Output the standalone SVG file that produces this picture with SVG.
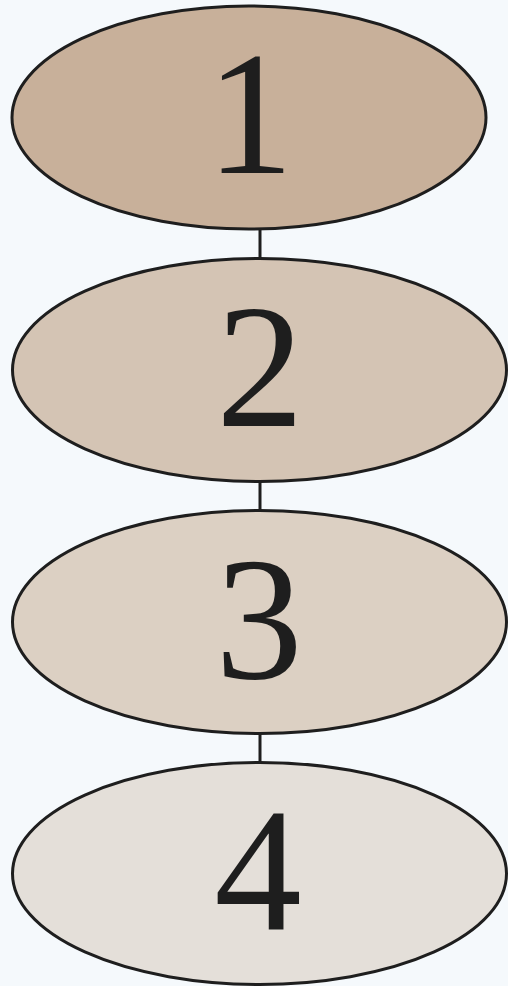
<svg xmlns="http://www.w3.org/2000/svg" width="508" height="986" viewBox="0 0 508 986">
<style>
.n{stroke:#1e1e1e;stroke-width:3}
.t{font-family:"Liberation Serif","DejaVu Serif",serif;font-size:175px;fill:#1e1e1e;text-anchor:middle}
.c{stroke:#1e1e1e;stroke-width:3;fill:none}
</style>
<rect width="508" height="986" fill="#f5f9fc"/>
<g id="connectors">
<line class="c" x1="260" y1="229" x2="260" y2="259"/>
<line class="c" x1="260" y1="482" x2="260" y2="511"/>
<line class="c" x1="260" y1="734" x2="260" y2="763"/>
</g>
<g id="node1">
<ellipse class="n" cx="249" cy="117.5" rx="237" ry="111.5" fill="#c8b09a"/>
<text class="t" x="250" y="173">1</text>
</g>
<g id="node2">
<ellipse class="n" cx="259.5" cy="370" rx="247" ry="111.5" fill="#d4c4b4"/>
<text class="t" x="260" y="425.5">2</text>
</g>
<g id="node3">
<ellipse class="n" cx="259.5" cy="622" rx="247" ry="111.5" fill="#dcd0c3"/>
<text class="t" x="259" y="677.5">3</text>
</g>
<g id="node4">
<ellipse class="n" cx="259.5" cy="873.5" rx="247" ry="111" fill="#e4dfd9"/>
<text class="t" x="258" y="929">4</text>
</g>
</svg>
